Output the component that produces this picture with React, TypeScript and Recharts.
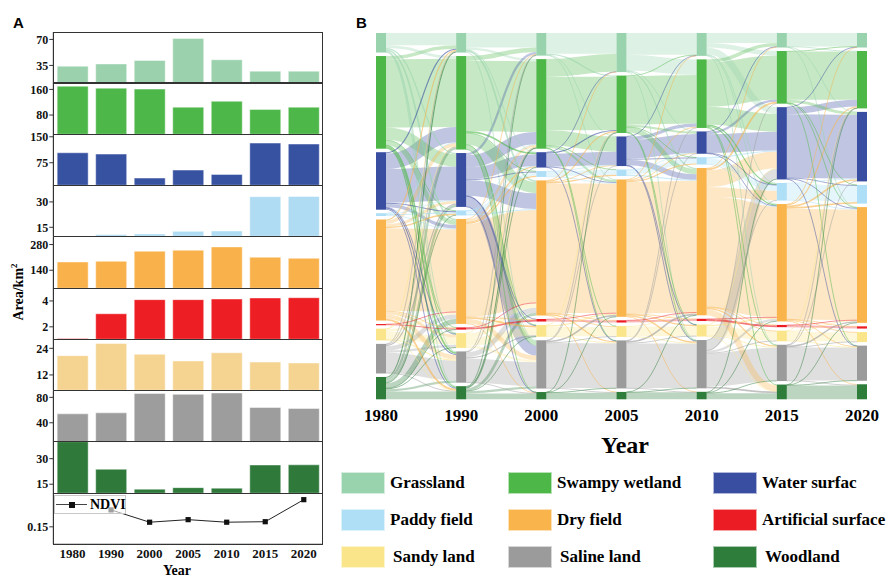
import React from "react";
import { BarChart, Bar, XAxis, YAxis, LineChart, Line, Sankey } from "recharts";

const years = ["1980", "1990", "2000", "2005", "2010", "2015", "2020"];

const classNames = [
  "Grassland",
  "Swampy wetland",
  "Water surfac",
  "Paddy field",
  "Dry field",
  "Artificial surface",
  "Sandy land",
  "Saline land",
  "Woodland",
];
const classColors = ["#98d3ae", "#4db748", "#3a4ea1", "#aedff6", "#f9b44c", "#ec1c24", "#fbe58b", "#9b9b9b", "#2f7d3a"];
const barColors = ["#9bd2ad", "#4eb749", "#3852a2", "#afdcf3", "#f9b24b", "#ed1f24", "#f5d492", "#9d9d9d", "#2f7a3b"];

// Panel A: area of each class per year (km²)
const grassland = [34, 37, 41.7, 71.3, 42.6, 27.3, 27.3];
const swampyWetland = [170, 164, 161, 104.6, 123, 97.5, 104.6];
const waterSurface = [103.8, 100, 30.8, 53.9, 41.3, 131.8, 129];
const paddyField = [9.9, 10.7, 11.1, 12.6, 12.8, 33.1, 33.2];
const dryField = [185, 189, 243.6, 249, 267, 211, 205];
const artificialSurface = [1.1, 3.01, 4.1, 4.1, 4.15, 4.23, 4.25];
const sandyLand = [20.7, 26.2, 21.3, 18.3, 22, 17.8, 17.4];
const salineLand = [54, 55.6, 86.2, 84.7, 86.9, 64, 62.5];
const woodland = [40, 23.8, 12.1, 13, 12.7, 26.3, 26.4];
const ndvi = [null, 0.183, 0.159, 0.164, 0.159, 0.16, 0.203];

const areaSeries = [grassland, swampyWetland, waterSurface, paddyField, dryField, artificialSurface, sandyLand, salineLand, woodland];
const areaDomains = [[11, 80], [20, 180], [10, 158], [9.7, 40], [42, 321], [1.04, 5], [5.1, 28.2], [9.3, 90], [9.7, 39.8]];
const areaTicks = [[35, 70], [80, 160], [75, 150], [15, 30], [140, 280], [2, 4], [12, 24], [40, 80], [15, 30]];

// Panel B: transitions [from, to, km²] between consecutive years
const G = 0, S = 1, W = 2, P = 3, D = 4, A = 5, Y = 6, L = 7, F = 8;

const flows1980 = [
  [G, G, 22], [S, S, 122], [W, W, 60.5], [P, P, 2], [D, D, 148], [A, A, 1.5], [Y, Y, 13.5], [L, L, 35.5], [F, F, 14],
  [G, S, 5], [G, W, 2], [G, D, 3], [G, L, 1.5], [G, F, 1], [G, Y, 0.5],
  [S, G, 6], [S, W, 22], [S, D, 8], [S, P, 1.5], [S, L, 3], [S, F, 2], [S, Y, 1], [S, A, 0.5],
  [W, S, 28], [W, G, 2], [W, D, 6], [W, P, 2], [W, L, 2], [W, F, 1.5], [W, Y, 1],
  [P, D, 1.5], [P, W, 1], [P, S, 0.5],
  [D, S, 6], [D, W, 5], [D, G, 2], [D, P, 2.5], [D, A, 1.5], [D, Y, 5], [D, L, 8], [D, F, 3],
  [A, D, 0.5],
  [Y, D, 4], [Y, L, 2], [Y, S, 0.5], [Y, F, 0.5], [Y, G, 0.5],
  [L, D, 8], [L, Y, 4], [L, S, 1.5], [L, W, 2], [L, F, 1.5], [L, G, 0.5],
  [F, D, 9], [F, S, 4], [F, W, 4], [F, L, 4], [F, G, 2], [F, Y, 1.5], [F, P, 1], [F, A, 0.5],
];

const flows1990 = [
  [G, G, 26], [S, S, 126.5], [W, W, 21], [P, P, 6], [D, D, 166], [A, A, 3], [Y, Y, 14], [L, L, 43], [F, F, 10.5],
  [G, S, 4], [G, D, 3], [G, L, 1.5], [G, W, 0.5],
  [S, G, 8], [S, W, 3], [S, D, 20], [S, L, 8], [S, P, 1], [S, Y, 0.5], [S, F, 0.5],
  [W, S, 22], [W, G, 4], [W, D, 28], [W, L, 18], [W, P, 1.5], [W, Y, 1], [W, F, 0.5], [W, A, 0.5],
  [P, D, 2], [P, S, 0.5], [P, W, 0.5],
  [D, S, 4], [D, W, 2], [D, G, 1], [D, P, 2], [D, A, 1], [D, Y, 3], [D, L, 8], [D, F, 1],
  [A, D, 1],
  [Y, D, 8], [Y, L, 4], [Y, S, 0.5],
  [L, D, 9], [L, Y, 2], [L, S, 1], [L, G, 0.5], [L, F, 0.5],
  [F, D, 5], [F, L, 4], [F, S, 2], [F, G, 1], [F, W, 0.5], [F, Y, 0.5],
];

const flows2000 = [
  [G, G, 37], [S, S, 95.5], [W, W, 23.5], [P, P, 9], [D, D, 232.2], [A, A, 3.7], [Y, Y, 16.5], [L, L, 80.5], [F, F, 11.7],
  [G, S, 2], [G, D, 1], [G, W, 0.5],
  [S, G, 32], [S, W, 27], [S, D, 4], [S, L, 1], [S, P, 0.5], [S, Y, 0.5],
  [W, S, 2], [W, D, 1], [W, G, 0.5], [W, L, 0.5],
  [P, D, 1], [P, W, 0.5],
  [D, S, 2], [D, W, 1], [D, P, 2], [D, Y, 1.5], [D, L, 2], [D, G, 0.5], [D, F, 0.5], [D, A, 0.3],
  [A, D, 0.8],
  [Y, D, 2.5], [Y, L, 1.5], [Y, S, 0.5],
  [L, D, 3], [L, Y, 1], [L, F, 1], [L, S, 0.5], [L, W, 0.5],
  [F, D, 0.5], [F, L, 0.5], [F, S, 0.3],
];

const flows2005 = [
  [G, G, 39], [S, S, 86.8], [W, W, 33.5], [P, P, 9], [D, D, 235.7], [A, A, 3.7], [Y, Y, 17], [L, L, 80], [F, F, 12.4],
  [G, S, 28], [G, D, 2], [G, W, 0.5], [G, L, 0.5],
  [S, G, 1], [S, W, 4], [S, D, 9], [S, L, 1], [S, P, 0.5], [S, Y, 0.5],
  [W, S, 6], [W, D, 10], [W, P, 1.5], [W, L, 1], [W, G, 0.5], [W, Y, 0.5],
  [P, D, 2], [P, W, 0.5],
  [D, S, 1.5], [D, W, 1], [D, P, 2], [D, Y, 2], [D, L, 2.5], [D, F, 0.5], [D, A, 0.3], [D, G, 0.5],
  [A, D, 0.3],
  [Y, D, 1.5], [Y, L, 1],
  [L, D, 3], [L, Y, 1.5], [L, F, 0.5], [L, S, 0.5], [L, W, 0.5],
  [F, L, 0.5], [F, D, 0.3],
];

const flows2010 = [
  [G, G, 18], [S, S, 78.8], [W, W, 33.5], [P, P, 10], [D, D, 197.8], [A, A, 3.5], [Y, Y, 16.5], [L, L, 59.5], [F, F, 10.9],
  [G, S, 8], [G, W, 12], [G, D, 1], [G, P, 1.5], [G, L, 0.5],
  [S, W, 32], [S, G, 6], [S, D, 2], [S, P, 2], [S, L, 1], [S, F, 1],
  [W, S, 4], [W, G, 1], [W, D, 1], [W, P, 0.5],
  [P, W, 2], [P, D, 1],
  [D, W, 30], [D, P, 17], [D, F, 11], [D, S, 3], [D, G, 1], [D, L, 2], [D, Y, 1.5], [D, A, 0.5],
  [A, D, 0.5],
  [Y, D, 2], [Y, L, 1.5], [Y, W, 1], [Y, F, 0.5],
  [L, W, 18], [L, D, 4], [L, F, 3], [L, Y, 1], [L, S, 0.5], [L, P, 0.5],
  [F, W, 1], [F, D, 1], [F, L, 0.5],
];

const flows2015 = [
  [G, G, 24], [S, S, 86.3], [W, W, 114], [P, P, 29], [D, D, 198], [A, A, 3.7], [Y, Y, 16], [L, L, 59], [F, F, 24.9],
  [G, S, 1], [G, W, 0.5], [G, D, 0.5],
  [S, W, 5], [S, G, 1], [S, D, 1], [S, L, 0.5], [S, P, 0.5],
  [W, S, 12], [W, G, 0.5], [W, D, 1.5], [W, P, 1], [W, L, 0.5],
  [P, D, 1.5], [P, W, 1],
  [D, S, 2], [D, W, 3], [D, P, 3], [D, L, 1.5], [D, Y, 1], [D, F, 1], [D, A, 0.3], [D, G, 0.5],
  [A, D, 0.3],
  [Y, D, 1.5], [Y, L, 1], [Y, S, 0.5],
  [L, D, 2.5], [L, Y, 1], [L, F, 1], [L, W, 1], [L, S, 0.5],
  [F, L, 0.5], [F, D, 0.5], [F, S, 0.5],
];

const periods = [flows1980, flows1990, flows2000, flows2005, flows2010, flows2015];

const sankeyNodes = years.flatMap((y) => classNames.map((c, i) => ({ name: `${c} ${y}`, cls: i })));
// big bands first so the thin lines sit on top
const sankeyLinks = periods.flatMap((flows, p) =>
  [...flows]
    .sort((a, b) => b[2] - a[2])
    .map(([s, t, v]) => ({ source: p * 9 + s, target: (p + 1) * 9 + t, value: v, cls: s }))
);

const SERIF = '"Liberation Serif", "Times New Roman", serif';
const PANEL_TOP = 31.7;
const PANEL_H = 51.26;
const tickStyle = { fontFamily: SERIF, fontWeight: 700, fontSize: 12, fill: "#111" };

const SankeyNode = (props: any) => {
  const { x, y, width, height, payload } = props;
  return <rect x={x} y={y} width={width} height={Math.max(height, 1.2)} fill={classColors[payload.cls]} />;
};

const SankeyLink = (props: any) => {
  const { sourceX, targetX, sourceY, targetY, sourceControlX, targetControlX, linkWidth, payload } = props;
  const thin = linkWidth < 2;
  return (
    <path
      d={`M${sourceX},${sourceY} C${sourceControlX},${sourceY} ${targetControlX},${targetY} ${targetX},${targetY}`}
      fill="none"
      stroke={classColors[payload.cls]}
      strokeWidth={Math.max(linkWidth, 0.8)}
      strokeOpacity={thin ? 0.6 : 0.32}
    />
  );
};

const SquareDot = (props: any) => {
  const { cx, cy, index } = props;
  if (cy == null || cx == null) return <g key={index} />;
  return <rect key={index} x={cx - 2.6} y={cy - 2.6} width={5.2} height={5.2} fill="#111" />;
};

const AreaPanel = ({ index }: { index: number }) => {
  const data = years.map((y, i) => ({ year: y, v: areaSeries[index][i] }));
  return (
    <div style={{ position: "absolute", left: 0, top: PANEL_TOP + index * PANEL_H, width: 323, height: PANEL_H }}>
      <BarChart width={323} height={PANEL_H} data={data} margin={{ top: 0, right: 0, bottom: 0, left: 0 }} barCategoryGap="10%">
        <XAxis dataKey="year" height={0} tick={false} tickLine={false} axisLine={{ stroke: "#333" }} />
        <YAxis
          width={53.3}
          domain={areaDomains[index]}
          ticks={areaTicks[index]}
          allowDataOverflow
          interval={0}
          tick={tickStyle}
          tickSize={4}
          tickMargin={1}
          tickLine={{ stroke: "#333" }}
          axisLine={{ stroke: "#333" }}
        />
        <Bar dataKey="v" fill={barColors[index]} stroke="#ffffff" strokeOpacity={0.45} strokeWidth={1} isAnimationActive={false} />
      </BarChart>
    </div>
  );
};

const App = () => {
  const ndviData = years.map((y, i) => ({ year: y, ndvi: ndvi[i] }));
  const colCenter = (i: number) => 381 + i * 80.17;

  return (
    <div style={{ position: "absolute", left: 0, top: 0, width: 887, height: 579, background: "#fff", overflow: "hidden", fontFamily: SERIF }}>
      <style>{`.recharts-surface{overflow:visible}`}</style>

      {/* Panel A */}
      <div style={{ position: "absolute", left: 13, top: 14.7, fontFamily: '"Liberation Sans", Arial, sans-serif', fontWeight: 700, fontSize: 15, lineHeight: "15px" }}>A</div>
      {areaSeries.map((_, i) => (
        <AreaPanel key={i} index={i} />
      ))}
      <div style={{ position: "absolute", left: 0, top: PANEL_TOP + 9 * PANEL_H, width: 323, height: PANEL_H + 24 }}>
        <LineChart width={323} height={PANEL_H + 24} data={ndviData} margin={{ top: 0, right: 0, bottom: 0, left: 0 }}>
          <XAxis
            dataKey="year"
            height={24}
            interval={0}
            padding={{ left: 19.2, right: 19.2 }}
            tick={{ ...tickStyle, fontSize: 13 }}
            tickLine={false}
            tickSize={3}
            tickMargin={2}
            axisLine={{ stroke: "#333" }}
          />
          <YAxis
            width={53.3}
            domain={[0.116, 0.216]}
            ticks={[0.15]}
            allowDataOverflow
            tick={tickStyle}
            tickSize={4}
            tickMargin={1}
            tickLine={{ stroke: "#333" }}
            axisLine={{ stroke: "#333" }}
            tickFormatter={(v: number) => v.toFixed(2)}
          />
          <Line dataKey="ndvi" stroke="#222" strokeWidth={1} dot={SquareDot} isAnimationActive={false} />
        </LineChart>
      </div>
      {/* frame and dividers of the stacked panels */}
      <div
        style={{
          position: "absolute",
          left: 53.3,
          top: PANEL_TOP,
          width: 269.7,
          height: 10 * PANEL_H + 0.5,
          border: "1px solid #333",
          boxSizing: "border-box",
          pointerEvents: "none",
        }}
      />
      {areaSeries.map((_, i) => (
        <div
          key={i}
          style={{ position: "absolute", left: 53.3, top: PANEL_TOP + (i + 1) * PANEL_H - 0.5, width: 269.7, height: 1.2, background: "#333" }}
        />
      ))}
      {/* NDVI legend */}
      <div
        style={{
          position: "absolute",
          left: 54,
          top: 495,
          width: 72,
          height: 19,
          background: "rgba(255,255,255,0.6)",
          border: "1px solid #c8c8c8",
          boxSizing: "border-box",
        }}
      >
        <div style={{ position: "absolute", left: 1, top: 8, width: 31, height: 1, background: "#444" }} />
        <div style={{ position: "absolute", left: 14, top: 6, width: 5.5, height: 5.5, background: "#111" }} />
        <div style={{ position: "absolute", left: 35, top: 1, fontWeight: 700, fontSize: 14, lineHeight: "15px" }}>NDVI</div>
      </div>
      <div style={{ position: "absolute", left: 18, top: 292, transform: "translate(-50%, -50%) rotate(-90deg)", whiteSpace: "nowrap", fontWeight: 700, fontSize: 14 }}>
        Area/km<sup style={{ fontSize: 9 }}>2</sup>
      </div>
      <div style={{ position: "absolute", left: 177, top: 571, transform: "translate(-50%, -50%)", fontWeight: 700, fontSize: 14 }}>Year</div>

      {/* Panel B */}
      <div style={{ position: "absolute", left: 356, top: 14.7, fontFamily: '"Liberation Sans", Arial, sans-serif', fontWeight: 700, fontSize: 15, lineHeight: "15px" }}>B</div>
      <div style={{ position: "absolute", left: 376, top: 32.7, width: 491, height: 366.3 }}>
        <Sankey
          width={491}
          height={366.3}
          data={{ nodes: sankeyNodes, links: sankeyLinks }}
          nodeWidth={10}
          nodePadding={3.5}
          iterations={0}
          sort={false}
          margin={{ top: 0, right: 0, bottom: 0, left: 0 }}
          node={SankeyNode}
          link={SankeyLink}
        />
      </div>
      {years.map((y, i) => (
        <div
          key={y}
          style={{ position: "absolute", left: colCenter(i) - 30, top: 407, width: 60, textAlign: "center", fontWeight: 700, fontSize: 17, lineHeight: "17px" }}
        >
          {y}
        </div>
      ))}
      <div style={{ position: "absolute", left: 625, top: 445, transform: "translate(-50%, -50%)", fontWeight: 700, fontSize: 24 }}>Year</div>

      {/* legend */}
      {classNames.map((c, i) => {
        const col = i % 3;
        const row = Math.floor(i / 3);
        const swatchLeft = [341, 508, 713][col];
        const textGap = row === 2 ? 8 : 5;
        return (
          <div
            key={c}
            style={{ position: "absolute", left: swatchLeft, top: [472, 508.5, 546][row], height: 22, display: "flex", alignItems: "center", whiteSpace: "nowrap" }}
          >
            <div style={{ width: 44, height: 22, background: classColors[i], boxSizing: "border-box", border: "1px solid rgba(255,255,255,0.6)" }} />
            <div style={{ marginLeft: textGap, fontWeight: 700, fontSize: 17 }}>{c}</div>
          </div>
        );
      })}
    </div>
  );
};

export default App;
